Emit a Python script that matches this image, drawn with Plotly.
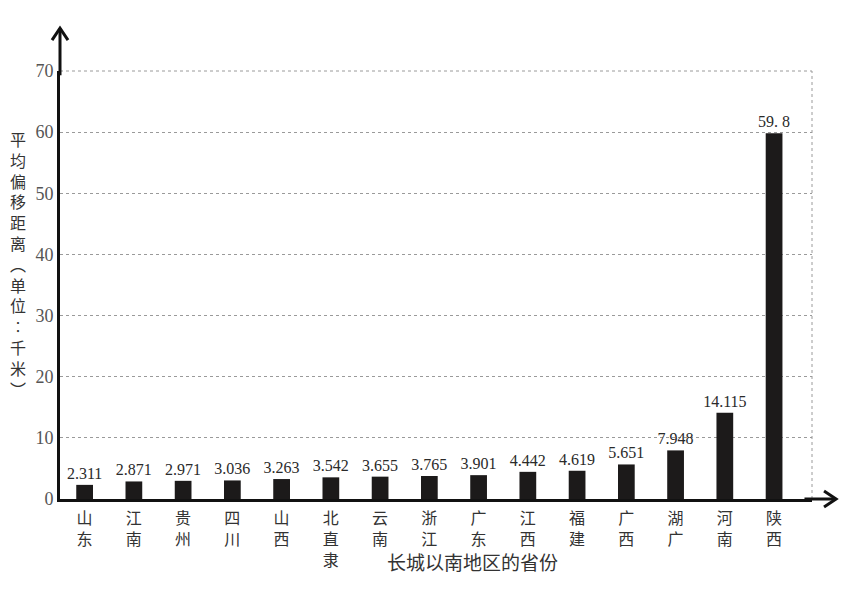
import plotly.graph_objects as go

provinces = ["山东", "江南", "贵州", "四川", "山西", "北直隶", "云南", "浙江",
             "广东", "江西", "福建", "广西", "湖广", "河南", "陕西"]
values = [2.311, 2.871, 2.971, 3.036, 3.263, 3.542, 3.655, 3.765,
          3.901, 4.442, 4.619, 5.651, 7.948, 14.115, 59.8]
value_labels = ["2.311", "2.871", "2.971", "3.036", "3.263", "3.542", "3.655", "3.765",
                "3.901", "4.442", "4.619", "5.651", "7.948", "14.115", "59. 8"]
y_ticks = [0, 10, 20, 30, 40, 50, 60, 70]
y_title = "平均偏移距离︵单位︰千米︶"
x_title = "长城以南地区的省份"

idx = list(range(len(provinces)))
tick_text = ["<br>".join(list(p)) for p in provinces]

label_font = dict(family="Liberation Serif", size=16, color="#2a2a2a")

fig = go.Figure()
fig.add_trace(go.Bar(
    x=idx, y=values, width=0.34,
    marker=dict(color="#1c1a1a", line=dict(width=0)),
    text=value_labels, textposition="outside", cliponaxis=False,
    constraintext="none",
    textfont=label_font, outsidetextfont=label_font,
))

CJK = "Noto Sans CJK SC"
fig.update_layout(
    width=850, height=575,
    margin=dict(l=52, r=46, t=63, b=81),
    paper_bgcolor="white", plot_bgcolor="white",
    showlegend=False,
    xaxis=dict(
        range=[-0.5, 14.77], tickmode="array", tickvals=idx, ticktext=tick_text,
        tickfont=dict(family=CJK, size=16, color="#333"),
        showgrid=False, zeroline=False, ticks="",
        showline=True, linecolor="#111", linewidth=3,
        ticklabelstandoff=3,
    ),
    yaxis=dict(
        range=[0, 70], tickmode="array", tickvals=y_ticks,
        tickfont=dict(family="Liberation Serif", size=18, color="#555"),
        showgrid=True, gridcolor="#9a9a9a", griddash="dot", gridwidth=1,
        zeroline=False, ticks="",
        showline=True, linecolor="#111", linewidth=3,
    ),
)

# y-axis title as vertical stacked characters
fig.add_annotation(
    xref="paper", yref="paper", x=-0.056, y=0.55,
    text="<br>".join(list(y_title)), showarrow=False,
    font=dict(family=CJK, size=16, color="#333"),
    xanchor="center", yanchor="middle",
)
# x-axis title
fig.add_annotation(
    xref="paper", yref="paper", x=0.549, y=-0.146,
    text=x_title, showarrow=False,
    font=dict(family=CJK, size=19, color="#333"),
    xanchor="center", yanchor="middle",
)

# dotted top and right border
fig.add_shape(type="line", xref="paper", yref="paper", x0=0, x1=1, y0=1, y1=1,
              line=dict(color="#9a9a9a", width=1, dash="dot"))
fig.add_shape(type="line", xref="paper", yref="paper", x0=1, x1=1, y0=0, y1=1,
              line=dict(color="#9a9a9a", width=1, dash="dot"))

# axis arrows
fig.add_shape(type="line", xref="paper", yref="paper", x0=0, x1=0, y0=0.99, y1=1.1,
              line=dict(color="#111", width=3))
fig.add_shape(type="path", xref="paper", yref="paper",
              path="M -0.0106,1.072 L 0,1.1 L 0.0106,1.072",
              line=dict(color="#111", width=3))
fig.add_shape(type="line", xref="paper", yref="paper", x0=0.99, x1=1.032, y0=0, y1=0,
              line=dict(color="#111", width=3))
fig.add_shape(type="path", xref="paper", yref="paper",
              path="M 1.016,0.0186 L 1.032,0 L 1.016,-0.0186",
              line=dict(color="#111", width=3))

fig.write_html("out.html")
